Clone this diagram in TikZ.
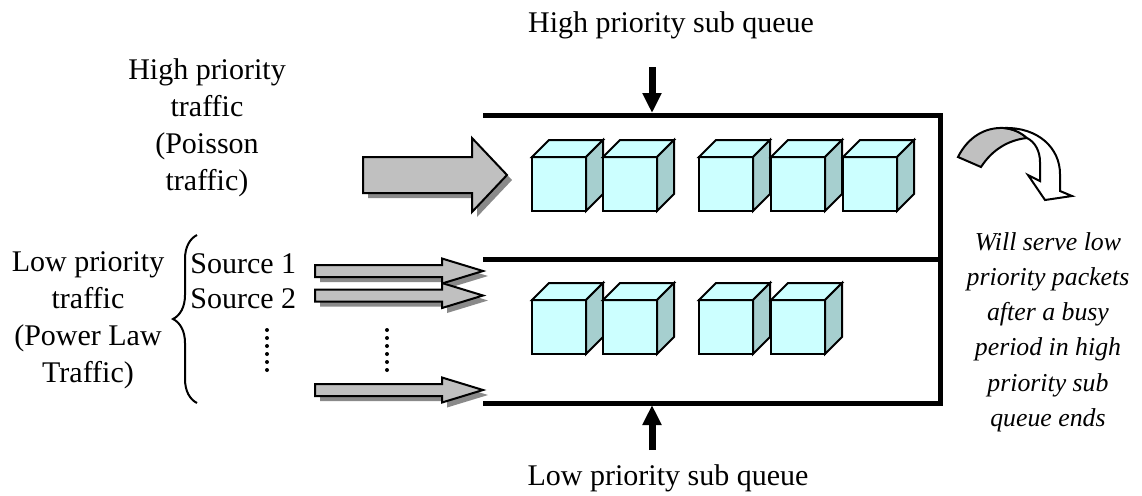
\documentclass[tikz,border=0pt]{standalone}
\usepackage{fontspec}
\setmainfont{Liberation Serif}
\usetikzlibrary{arrows.meta, decorations.pathreplacing}

\definecolor{packetfront}{HTML}{CCFFFF}
\definecolor{packetside}{HTML}{A6CFCF}
\definecolor{arrowgray}{HTML}{C0C0C0}
\definecolor{shadowgray}{HTML}{8A8A8A}

\newcommand{\labelfont}{\fontsize{15}{18.5}\selectfont}
\newcommand{\notefont}{\fontsize{12.9}{17.6}\selectfont\itshape}

% block arrow: x start, x head base, x tip, y centre, half body, half head
\newcommand{\feedarrow}[6]{%
  \fill[shadowgray, shift={(5,5)}] (#1,#4-#5) -- (#2,#4-#5) -- (#2,#4-#6) -- (#3,#4)
    -- (#2,#4+#6) -- (#2,#4+#5) -- (#1,#4+#5) -- cycle;
  \filldraw[fill=arrowgray, line width=1pt] (#1,#4-#5) -- (#2,#4-#5) -- (#2,#4-#6) -- (#3,#4)
    -- (#2,#4+#6) -- (#2,#4+#5) -- (#1,#4+#5) -- cycle;
}

\tikzset{
  wall/.style={line width=2.5pt, line join=miter},
  feed/.style={line width=3.5pt, -{Triangle[length=10pt, width=9pt]}},
  packet/.pic={
    % front, top and side face of one packet
    \filldraw[fill=packetfront, line width=1pt] (0,0) rectangle (54,54);
    \filldraw[fill=packetfront, line width=1pt] (0,0) -- (17,-17) -- (71,-17) -- (54,0) -- cycle;
    \filldraw[fill=packetside, line width=1pt] (54,0) -- (71,-17) -- (71,37) -- (54,54) -- cycle;
  },
}

\begin{document}
\begin{tikzpicture}[x=0.5pt, y=-0.5pt]
  \useasboundingbox (0,0) rectangle (1142,495);

  % queue walls
  \coordinate (qtl) at (483,115);
  \coordinate (qtr) at (940,115);
  \coordinate (qml) at (483,259);
  \coordinate (qmr) at (940,259);
  \coordinate (qbl) at (483,403);
  \coordinate (qbr) at (940,403);
  \draw[wall] (qtl) -- (qtr) -- (qbr) -- (qbl);
  \draw[wall] (qml) -- (qmr);

  % packets waiting in both sub queues
  \foreach \x in {532,603,699,771,843}
    \pic at (\x,157) {packet};
  \foreach \x in {532,603,699,771}
    \pic at (\x,300) {packet};

  % incoming traffic
  \feedarrow{363}{472}{507}{175}{18}{37}
  \feedarrow{315}{442}{483}{271}{6}{12.5}
  \feedarrow{315}{442}{483}{295.5}{6}{12.5}
  \feedarrow{315}{442}{483}{390}{6}{12.5}
  \foreach \y in {330,338,...,370} {
    \fill (267,\y) circle (1pt);
    \fill (387,\y) circle (1pt);
  }

  % sub queue labels
  \node[font=\labelfont] (hiqueue) at (671,25) {High priority sub queue};
  \node[font=\labelfont] (loqueue) at (668,478) {Low priority sub queue};
  \coordinate (hitop) at (652,67);
  \coordinate (hiend) at (652,113);
  \coordinate (lobot) at (652,450);
  \coordinate (loend) at (652,405);
  \draw[feed] (hitop) -- (hiend);
  \draw[feed] (lobot) -- (loend);

  % traffic sources
  \node[font=\labelfont, align=center] (hitraffic) at (207,128)
    {High priority\\traffic\\(Poisson\\traffic)};
  \node[font=\labelfont, align=center] (lotraffic) at (88,320)
    {Low priority\\traffic\\(Power Law\\Traffic)};
  \node[font=\labelfont, anchor=base west, inner sep=0pt] (src1) at (190,273) {Source 1};
  \node[font=\labelfont, anchor=base west, inner sep=0pt] (src2) at (190,308) {Source 2};
  \draw[line width=1pt, decorate, decoration={brace, amplitude=12pt}] (197,403) -- (197,235);

  % service switch
  \filldraw[fill=arrowgray, line width=1pt] (958,157) .. controls (968,137) and (985,127) .. (1004,128)
    .. controls (1014,129) and (1022,133) .. (1027,138)
    .. controls (1008,140) and (992,150) .. (981,167) -- cycle;
  \filldraw[fill=white, line width=1pt] (1004,128) .. controls (1038,127) and (1060,148) .. (1060,174)
    -- (1060,191) -- (1072,196) -- (1045,200) -- (1028,175) -- (1040,181) -- (1040,162)
    .. controls (1040,151) and (1035,142) .. (1027,138)
    .. controls (1020,132) and (1013,129) .. (1004,128) -- cycle;
  \node[font=\notefont, align=center] (rule) at (1048,332)
    {Will serve low\\priority packets\\after a busy\\period in high\\priority sub\\queue ends};
\end{tikzpicture}
\end{document}
